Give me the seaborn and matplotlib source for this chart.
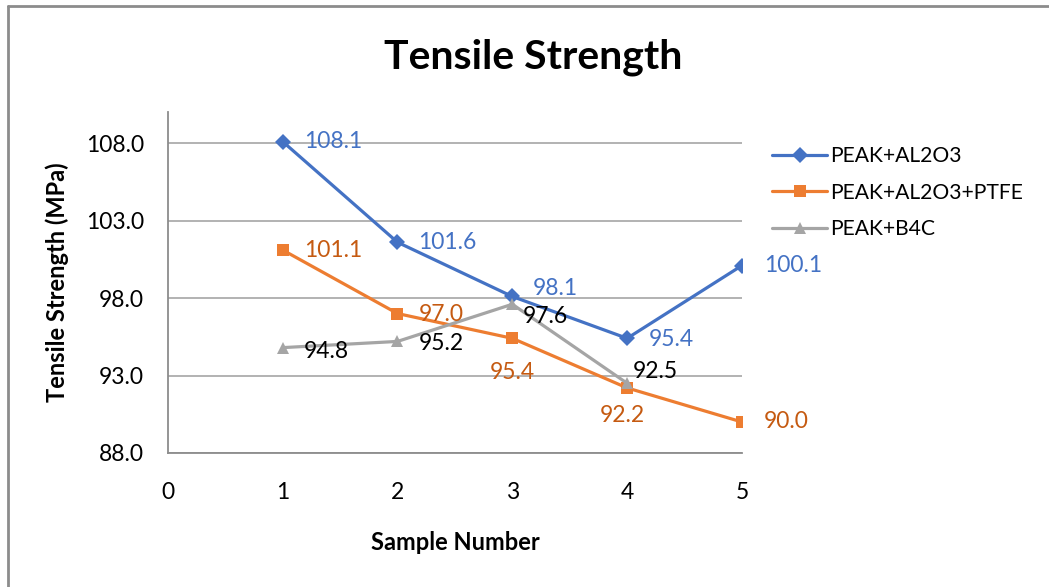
import matplotlib
matplotlib.use("Agg")
import matplotlib.pyplot as plt
import seaborn as sns
import pandas as pd
from matplotlib.lines import Line2D

# Sample numbers and measured tensile strength (MPa) for each composite
samples = [1, 2, 3, 4, 5]
peak_al2o3 = [108.1, 101.6, 98.1, 95.4, 100.1]
peak_al2o3_ptfe = [101.1, 97.0, 95.4, 92.2, 90.0]
peak_b4c = [94.8, 95.2, 97.6, 92.5]

series_names = ["PEAK+AL2O3", "PEAK+AL2O3+PTFE", "PEAK+B4C"]
y_ticks = [88.0, 93.0, 98.0, 103.0, 108.0]
x_ticks = [0, 1, 2, 3, 4, 5]

line_colors = {"PEAK+AL2O3": "#4472C4", "PEAK+AL2O3+PTFE": "#ED7D31", "PEAK+B4C": "#A5A5A5"}
label_colors = {"PEAK+AL2O3": "#4472C4", "PEAK+AL2O3+PTFE": "#C55A11", "PEAK+B4C": "#000000"}
markers = {"PEAK+AL2O3": "D", "PEAK+AL2O3+PTFE": "s", "PEAK+B4C": "^"}

frames = []
for name, vals in zip(series_names, [peak_al2o3, peak_al2o3_ptfe, peak_b4c]):
    frames.append(pd.DataFrame({"Sample": samples[:len(vals)], "Strength": vals, "Series": name}))
df = pd.concat(frames, ignore_index=True)

sns.set_theme(style="white")
plt.rcParams["font.family"] = ["Lato", "DejaVu Sans"]
plt.rcParams["text.color"] = "#000000"
plt.rcParams["axes.labelcolor"] = "#000000"

fig = plt.figure(figsize=(10.49, 5.87), dpi=100)
ax = fig.add_axes([0.160, 0.2283, 0.5473, 0.5807])

sns.lineplot(data=df, x="Sample", y="Strength", hue="Series", style="Series",
             palette=line_colors, markers=markers, dashes=False, linewidth=2.3,
             markersize=8.5, markeredgewidth=0, ax=ax, legend=False, sort=False)

ax.set_xlim(0, 5)
ax.set_ylim(88, 110)
ax.set_xticks(x_ticks)
ax.set_xticklabels([str(t) for t in x_ticks])
ax.set_yticks(y_ticks)
ax.set_yticklabels([f"{t:.1f}" for t in y_ticks])
ax.tick_params(axis="both", length=0, labelsize=16.5, colors="#000000")
ax.tick_params(axis="x", pad=21)
ax.tick_params(axis="y", pad=17)
ax.yaxis.grid(True, color="#A6A6A6", linewidth=1.2)
ax.set_axisbelow(True)
for side in ["top", "right"]:
    ax.spines[side].set_visible(False)
for side in ["left", "bottom"]:
    ax.spines[side].set_color("#8C8C8C")
    ax.spines[side].set_linewidth(1.3)

ax.set_xlabel("Sample Number", fontsize=17, fontweight="bold", labelpad=20)
ax.set_ylabel("Tensile Strength (MPa)", fontsize=17, fontweight="bold", labelpad=12)
fig.suptitle("Tensile Strength", fontsize=29.5, fontweight="bold", x=0.508, y=0.934)

# Data label offsets in pixels (dx, dy, horizontal alignment)
offsets = {
    "PEAK+AL2O3": [(21, 0, "left"), (21, 0, "left"), (20, 8, "left"), (22, -1, "left"), (22, 0, "left")],
    "PEAK+AL2O3+PTFE": [(21, 0, "left"), (21, -1, "left"), (0, -34, "center"), (-5, -28, "center"), (22, 0, "left")],
    "PEAK+B4C": [(21, -4, "left"), (21, -2, "left"), (10, -12, "left"), (6, 12, "left")],
}
for name, vals in zip(series_names, [peak_al2o3, peak_al2o3_ptfe, peak_b4c]):
    for x, v, (dx, dy, ha) in zip(samples, vals, offsets[name]):
        ax.annotate(f"{v:.1f}", (x, v), xytext=(dx, dy), textcoords="offset pixels",
                    ha=ha, va="center", fontsize=16.5, color=label_colors[name],
                    annotation_clip=False)

handles = [Line2D([0], [0], color=line_colors[n], marker=markers[n], markersize=8.5,
                  markeredgewidth=0, linewidth=2.3) for n in series_names]
fig.legend(handles, series_names, loc="upper left", bbox_to_anchor=(0.718, 0.783),
           frameon=False, fontsize=15.2, handlelength=2.6, handletextpad=0.15,
           labelspacing=0.78, labelcolor="#000000")

# Outer chart border (left and top edges)
fig.add_artist(Line2D([0.0072, 0.0072], [0, 0.989], transform=fig.transFigure,
                      color="#8C8C8C", linewidth=2))
fig.add_artist(Line2D([0.0072, 1.0], [0.989, 0.989], transform=fig.transFigure,
                      color="#8C8C8C", linewidth=2))

fig.savefig("out.png", dpi=100, facecolor="white")
